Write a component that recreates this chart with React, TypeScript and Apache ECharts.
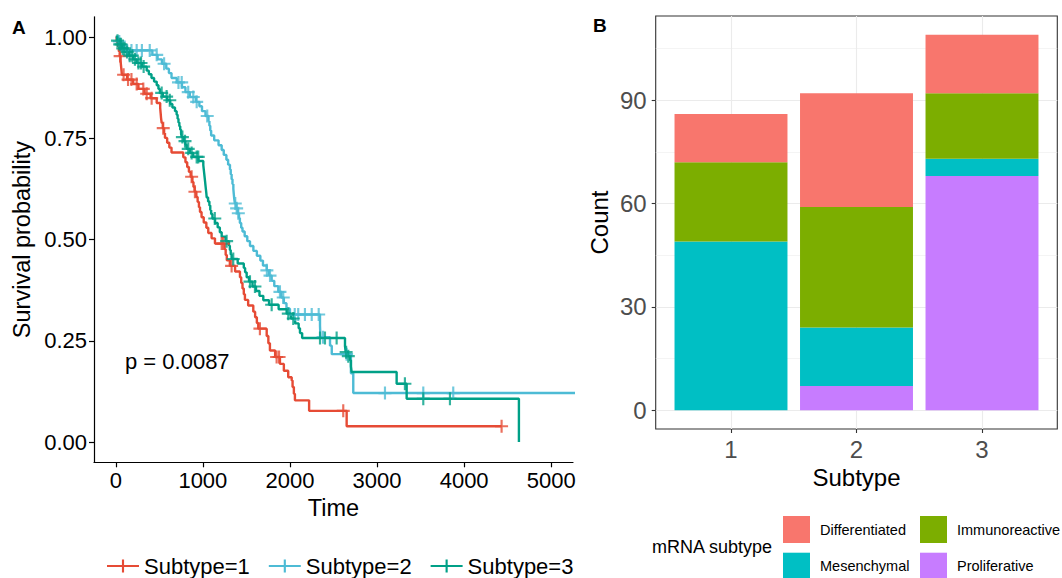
import React, { useEffect, useRef } from 'react';
import * as echarts from 'echarts';

// ---------- Panel A: Kaplan-Meier data ----------
const strata = ['Subtype=1', 'Subtype=2', 'Subtype=3'];
const strataColors = ['#E64B35', '#4DBBD5', '#00A087'];
const timeTicks = [0, 1000, 2000, 3000, 4000, 5000];
const survTicks = [0, 0.25, 0.5, 0.75, 1];
const pValueLabel = 'p = 0.0087';

const sub1EventTimes = [10, 25, 35, 45, 55, 60, 65, 70, 130, 200, 260, 330, 400, 470, 510, 515, 520, 527, 540, 555, 565, 590, 615, 640, 775, 800, 820, 840, 860, 880, 892, 905, 925, 940, 955, 967, 985, 1010, 1040, 1062, 1100, 1139, 1250, 1262, 1275, 1310, 1370, 1426, 1440, 1455, 1470, 1483, 1520, 1579, 1600, 1620, 1636, 1733, 1752, 1770, 1830, 1885, 1930, 1980, 2020, 2030, 2045, 2057, 2220, 2651];
const sub1Surv = [0.988, 0.977, 0.965, 0.953, 0.942, 0.93, 0.919, 0.907, 0.895, 0.884, 0.872, 0.86, 0.849, 0.837, 0.825, 0.813, 0.8, 0.788, 0.775, 0.763, 0.751, 0.739, 0.727, 0.715, 0.703, 0.691, 0.679, 0.667, 0.655, 0.642, 0.63, 0.618, 0.605, 0.593, 0.58, 0.568, 0.555, 0.542, 0.529, 0.516, 0.503, 0.49, 0.476, 0.462, 0.449, 0.435, 0.421, 0.407, 0.393, 0.379, 0.365, 0.351, 0.337, 0.322, 0.308, 0.294, 0.28, 0.262, 0.244, 0.226, 0.21, 0.193, 0.176, 0.16, 0.152, 0.136, 0.119, 0.103, 0.077, 0.039];
const sub1Censor = [50, 90, 141, 180, 240, 316, 355, 412, 545, 871, 909, 1216, 1234, 1330, 1655, 1847, 1875, 2612, 4430];

const sub2EventTimes = [25, 60, 100, 420, 480, 530, 580, 610, 640, 700, 760, 800, 850, 920, 960, 990, 1030, 1065, 1075, 1085, 1095, 1130, 1180, 1216, 1240, 1270, 1290, 1311, 1320, 1330, 1340, 1350, 1355, 1360, 1368, 1385, 1400, 1415, 1425, 1440, 1455, 1480, 1510, 1541, 1580, 1620, 1660, 1690, 1733, 1760, 1790, 1820, 1866, 1900, 1930, 1960, 2000, 2345, 2350, 2460, 2480, 2700, 2727];
const sub2Surv = [0.989, 0.978, 0.967, 0.956, 0.945, 0.934, 0.922, 0.911, 0.899, 0.888, 0.876, 0.864, 0.852, 0.84, 0.829, 0.817, 0.805, 0.793, 0.781, 0.769, 0.757, 0.745, 0.733, 0.721, 0.709, 0.697, 0.685, 0.673, 0.661, 0.649, 0.637, 0.625, 0.613, 0.601, 0.589, 0.577, 0.565, 0.553, 0.541, 0.529, 0.52, 0.508, 0.496, 0.484, 0.472, 0.46, 0.448, 0.436, 0.424, 0.411, 0.398, 0.385, 0.371, 0.357, 0.343, 0.329, 0.315, 0.287, 0.259, 0.238, 0.217, 0.17, 0.121];
const sub2Censor = [40, 130, 180, 240, 300, 390, 470, 555, 720, 757, 832, 890, 929, 1050, 1372, 1388, 1407, 1735, 1771, 1885, 1923, 2055, 2095, 2172, 2250, 2330, 2380, 2650, 3091, 3531, 3875, 5500];

const sub3EventTimes = [15, 40, 70, 110, 150, 200, 240, 300, 355, 380, 410, 440, 470, 490, 507, 540, 590, 625, 650, 680, 699, 710, 720, 730, 740, 750, 757, 780, 800, 814, 850, 890, 950, 1005, 1010, 1015, 1020, 1025, 1030, 1035, 1040, 1044, 1060, 1075, 1085, 1095, 1110, 1140, 1170, 1195, 1216, 1260, 1300, 1310, 1320, 1330, 1400, 1470, 1485, 1503, 1530, 1570, 1610, 1650, 1694, 1760, 1870, 1962, 2010, 2060, 2100, 2115, 2140, 2632, 2640, 2660, 2689, 2700, 2708, 3225, 3340, 4629];
const sub3Surv = [0.991, 0.982, 0.972, 0.963, 0.954, 0.945, 0.936, 0.927, 0.917, 0.908, 0.899, 0.89, 0.881, 0.872, 0.862, 0.853, 0.844, 0.835, 0.826, 0.817, 0.808, 0.798, 0.789, 0.78, 0.771, 0.762, 0.753, 0.743, 0.734, 0.724, 0.714, 0.704, 0.694, 0.684, 0.674, 0.664, 0.654, 0.644, 0.634, 0.624, 0.614, 0.604, 0.594, 0.584, 0.573, 0.563, 0.552, 0.541, 0.53, 0.518, 0.507, 0.496, 0.485, 0.474, 0.463, 0.452, 0.441, 0.43, 0.419, 0.407, 0.396, 0.384, 0.373, 0.361, 0.35, 0.339, 0.328, 0.317, 0.305, 0.293, 0.281, 0.269, 0.257, 0.237, 0.222, 0.212, 0.202, 0.187, 0.173, 0.144, 0.107, 0];
const sub3Censor = [20, 45, 60, 80, 100, 130, 160, 190, 220, 260, 290, 320, 527, 584, 620, 765, 795, 832, 871, 929, 947, 1137, 1273, 1349, 1541, 1598, 1790, 1981, 2038, 2345, 2402, 2536, 2645, 2670, 3320, 3531, 3837];

// ---------- Panel B: stacked counts ----------
const subtypes = ['1', '2', '3'];
const countTicks = [0, 30, 60, 90];
const countMinorTicks = [15, 45, 75, 105];
const mrnaTypes = ['Differentiated', 'Immunoreactive', 'Mesenchymal', 'Proliferative'];
const mrnaColors = ['#F8766D', '#7CAE00', '#00BFC4', '#C77CFF'];
const differentiated = [14, 33, 17];
const immunoreactive = [23, 35, 19];
const mesenchymal = [49, 17, 5];
const proliferative = [0, 7, 68];

const FONT = '"Liberation Sans", Arial, Helvetica, sans-serif';
const PLUS = 'path://M5,0H7V5H12V7H7V12H5V7H0V5H5Z';

function survAt(times: number[], surv: number[], t: number): number {
  let s = 1;
  for (let i = 0; i < times.length; i++) {
    if (times[i] <= t) s = surv[i];
    else break;
  }
  return s;
}

function kmPoints(times: number[], surv: number[], censor: number[]) {
  const pts: number[][] = [[0, 1]];
  times.forEach((t, i) => pts.push([t, surv[i]]));
  const lastEvent = times[times.length - 1];
  const lastT = Math.max(lastEvent, ...censor);
  if (lastT > lastEvent) pts.push([lastT, surv[surv.length - 1]]);
  return pts;
}

export default function App() {
  const ref = useRef<HTMLDivElement>(null);

  useEffect(() => {
    if (!ref.current) return;
    const chart = echarts.init(ref.current, undefined, { renderer: 'svg' });

    const kmSets = [
      [sub1EventTimes, sub1Surv, sub1Censor],
      [sub2EventTimes, sub2Surv, sub2Censor],
      [sub3EventTimes, sub3Surv, sub3Censor],
    ];

    const kmSeries: any[] = [];
    kmSets.forEach(([times, surv, censor], i) => {
      kmSeries.push({
        type: 'line',
        name: strata[i],
        xAxisIndex: 0,
        yAxisIndex: 0,
        step: 'end',
        data: kmPoints(times, surv, censor),
        showSymbol: false,
        symbol: PLUS,
        symbolSize: 13,
        lineStyle: { color: strataColors[i], width: 2.4 },
        itemStyle: { color: strataColors[i] },
        clip: true,
        z: 3,
      });
    });
    kmSets.forEach(([times, surv, censor], i) => {
      kmSeries.push({
        type: 'scatter',
        name: strata[i] + ' (censored)',
        xAxisIndex: 0,
        yAxisIndex: 0,
        data: censor.map((t) => [t, survAt(times, surv, t)]),
        symbol: PLUS,
        symbolSize: 13,
        itemStyle: { color: strataColors[i] },
        clip: true,
        z: 4,
      });
    });

    // Panel B geometry (frame spans 0.4..3.6 like ggplot's discrete expansion)
    const frameLeft = 655.7;
    const frameTop = 16;
    const frameWidth = 401.6;
    const frameHeight = 413;
    const unit = frameWidth / 3.2;
    const yMin = -5.45;
    const yMax = 114.45;

    const barData = [proliferative, mesenchymal, immunoreactive, differentiated];
    const barNames = [mrnaTypes[3], mrnaTypes[2], mrnaTypes[1], mrnaTypes[0]];
    const barColors = [mrnaColors[3], mrnaColors[2], mrnaColors[1], mrnaColors[0]];
    const barSeries = barData.map((d, i) => ({
      type: 'bar',
      name: barNames[i],
      xAxisIndex: 2,
      yAxisIndex: 3,
      stack: 'count',
      data: d,
      barCategoryGap: '10%',
      itemStyle: { color: barColors[i] },
      z: 3,
    }));

    const legendPos = [
      [783, 516],
      [920, 516],
      [783, 552.7],
      [920, 552.7],
    ];
    const barLegends = mrnaTypes.map((name, i) => ({
      data: [name],
      left: legendPos[i][0],
      top: legendPos[i][1],
      padding: 0,
      itemWidth: 27,
      itemHeight: 27,
      icon: 'rect',
      selectedMode: false,
      textStyle: { fontSize: 14.5, color: '#000', fontFamily: FONT, padding: [0, 0, 0, 5] },
    }));

    const tickIdx = subtypes.map((_, i) => i + 1);

    chart.setOption({
      animation: false,
      backgroundColor: '#fff',
      textStyle: { fontFamily: FONT },
      grid: [
        { left: 94, top: 16.8, width: 479, height: 445.5, containLabel: false },
        {
          left: frameLeft, top: frameTop, width: frameWidth, height: frameHeight,
          show: true, borderColor: '#333333', borderWidth: 1.1, backgroundColor: 'transparent',
        },
        { left: frameLeft + 0.1 * unit, top: frameTop, width: 3 * unit, height: frameHeight },
      ],
      legend: [
        {
          data: strata,
          left: 106,
          top: 555,
          padding: 0,
          itemWidth: 32,
          itemHeight: 16,
          itemGap: 18,
          selectedMode: false,
          textStyle: { fontSize: 22, color: '#000', fontFamily: FONT },
        },
        ...barLegends,
      ],
      xAxis: [
        {
          type: 'value', gridIndex: 0, min: -250, max: 5250,
          axisLine: { show: true, onZero: false, lineStyle: { color: '#000', width: 1.2 } },
          axisTick: { show: true, length: 5, customValues: timeTicks, lineStyle: { color: '#000', width: 1.2 } },
          axisLabel: { customValues: timeTicks, color: '#000', fontSize: 22, margin: 7, formatter: (v: number) => String(v) },
          splitLine: { show: false },
          name: 'Time', nameLocation: 'middle', nameGap: 34,
          nameTextStyle: { fontSize: 23.5, color: '#000' },
        },
        {
          type: 'value', gridIndex: 1, min: 0.4, max: 3.6,
          axisLine: { show: false, onZero: false },
          axisTick: { show: true, length: 4, customValues: tickIdx, lineStyle: { color: '#333333', width: 1.1 } },
          axisLabel: {
            customValues: tickIdx, color: '#4D4D4D', fontSize: 24, margin: 8,
            formatter: (v: number) => subtypes[Math.round(v) - 1],
          },
          splitLine: { show: true, lineStyle: { color: '#EBEBEB', width: 1.1 } },
          name: 'Subtype', nameLocation: 'middle', nameGap: 33,
          nameTextStyle: { fontSize: 24, color: '#000' },
        },
        { type: 'category', gridIndex: 2, data: subtypes, show: false },
      ],
      yAxis: [
        {
          type: 'value', gridIndex: 0, min: -0.05, max: 1.05,
          axisLine: { show: true, onZero: false, lineStyle: { color: '#000', width: 1.2 } },
          axisTick: { show: true, length: 5, customValues: survTicks, lineStyle: { color: '#000', width: 1.2 } },
          axisLabel: { customValues: survTicks, color: '#000', fontSize: 22, margin: 7, formatter: (v: number) => v.toFixed(2) },
          splitLine: { show: false },
          name: 'Survival probability', nameLocation: 'middle', nameGap: 60,
          nameTextStyle: { fontSize: 23.5, color: '#000' },
        },
        {
          type: 'value', gridIndex: 1, min: yMin, max: yMax, position: 'left',
          axisLine: { show: false, onZero: false },
          axisTick: { show: true, length: 4, customValues: countTicks, lineStyle: { color: '#333333', width: 1.1 } },
          axisLabel: { customValues: countTicks, color: '#4D4D4D', fontSize: 24, margin: 9 },
          splitLine: { show: true, lineStyle: { color: '#EBEBEB', width: 1.1 } },
          name: 'Count', nameLocation: 'middle', nameGap: 44,
          nameTextStyle: { fontSize: 24, color: '#000' },
        },
        {
          type: 'value', gridIndex: 1, min: yMin, max: yMax, position: 'left',
          axisLine: { show: false, onZero: false },
          axisTick: { show: false, customValues: countMinorTicks },
          axisLabel: { show: false, customValues: countMinorTicks },
          splitLine: { show: true, lineStyle: { color: '#EBEBEB', width: 0.55 } },
        },
        { type: 'value', gridIndex: 2, min: yMin, max: yMax, show: false },
      ],
      graphic: [
        { type: 'text', left: 12, top: 18, style: { text: 'A', fontSize: 19, fontWeight: 'bold', fill: '#000', fontFamily: FONT } },
        { type: 'text', left: 593, top: 16, style: { text: 'B', fontSize: 19, fontWeight: 'bold', fill: '#000', fontFamily: FONT } },
        { type: 'text', left: 125, top: 350, style: { text: pValueLabel, fontSize: 22, fill: '#000', fontFamily: FONT } },
        { type: 'text', left: 652, top: 538, style: { text: 'mRNA subtype', fontSize: 18, fill: '#000', fontFamily: FONT } },
      ],
      series: [...kmSeries, ...barSeries],
    });

    return () => chart.dispose();
  }, []);

  return (
    <div
      ref={ref}
      style={{ position: 'fixed', left: 0, top: 0, width: 1062, height: 578, background: '#fff' }}
    />
  );
}
